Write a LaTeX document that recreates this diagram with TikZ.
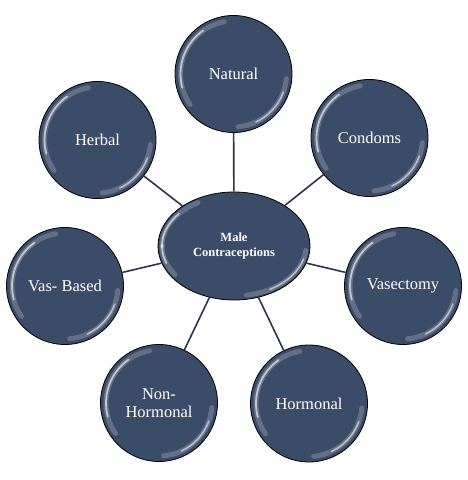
\documentclass[tikz,border=0pt]{standalone}
\usepackage{fontspec}
\setmainfont{Liberation Serif}
\usepackage{tikz}

\definecolor{bubblefill}{RGB}{59,76,104}
\definecolor{linkcolor}{RGB}{40,54,78}

\tikzset{
  gloss/.style={
    path picture={
      \draw[white,opacity=0.2,line width=5pt,line cap=round] (path picture bounding box.center) ++(100:#1) arc[start angle=100,end angle=215,radius=#1];
      \draw[white,opacity=0.6,line width=1.8pt,line cap=round] (path picture bounding box.center) ++(125:#1) arc[start angle=125,end angle=195,radius=#1];
      \draw[white,opacity=0.2,line width=5pt,line cap=round] (path picture bounding box.center) ++(-5:#1) arc[start angle=-5,end angle=-85,radius=#1];
      \draw[white,opacity=0.55,line width=1.6pt,line cap=round] (path picture bounding box.center) ++(-20:#1) arc[start angle=-20,end angle=-65,radius=#1];
    }},
  bubble/.style={circle,draw=black,line width=0.8pt,fill=bubblefill,minimum size=117pt,inner sep=0pt,
    text=white,align=center,font=\fontsize{16.5}{18.5}\selectfont,gloss=53pt},
  hub/.style={ellipse,draw=black,line width=0.8pt,fill=bubblefill,minimum width=152pt,minimum height=108pt,inner sep=0pt,
    text=white,align=center,font=\bfseries\fontsize{12.5}{15}\selectfont},
  link/.style={draw=linkcolor,line width=1.6pt},
}

\usetikzlibrary{shapes.geometric}

\begin{document}
\begin{tikzpicture}[x=1pt,y=1pt]
\useasboundingbox (0,0) rectangle (467,480);
\node[hub] (male) at (234,234) {Male\\Contraceptions};
\node[bubble] (natural) at (233.5,406) {Natural};
\node[bubble] (condoms) at (369.5,342) {Condoms};
\node[bubble] (vasectomy) at (403,194) {Vasectomy};
\node[bubble] (hormonal) at (309,76.5) {Hormonal};
\node[bubble] (nonhormonal) at (159,77) {Non-\\Hormonal};
\node[bubble] (vasbased) at (65,194) {Vas- Based};
\node[bubble] (herbal) at (97.5,340) {Herbal};
% gloss on the hub
\begin{scope}
\clip (male.center) ellipse[x radius=75.5pt,y radius=53.5pt];
\draw[white,opacity=0.2,line width=5pt,line cap=round] (male.center) ++(-72pt,0) arc[start angle=180,end angle=120,x radius=72pt,y radius=50pt];
\draw[white,opacity=0.2,line width=5pt,line cap=round] (male.center) ++(-72pt,0) arc[start angle=180,end angle=215,x radius=72pt,y radius=50pt];
\draw[white,opacity=0.6,line width=1.8pt,line cap=round] (male.center) ++(-72pt,0) arc[start angle=180,end angle=140,x radius=72pt,y radius=50pt];
\draw[white,opacity=0.6,line width=1.8pt,line cap=round] (male.center) ++(-72pt,0) arc[start angle=180,end angle=200,x radius=72pt,y radius=50pt];
\draw[white,opacity=0.2,line width=5pt,line cap=round] (male.center) ++(-5:72pt and 50pt) arc[start angle=-5,end angle=-80,x radius=72pt,y radius=50pt];
\draw[white,opacity=0.55,line width=1.6pt,line cap=round] (male.center) ++(-15:72pt and 50pt) arc[start angle=-15,end angle=-60,x radius=72pt,y radius=50pt];
\end{scope}
% links
\foreach \n in {natural,condoms,vasectomy,hormonal,nonhormonal,vasbased,herbal}
  \draw[link] (male) -- (\n);
\end{tikzpicture}
\end{document}
